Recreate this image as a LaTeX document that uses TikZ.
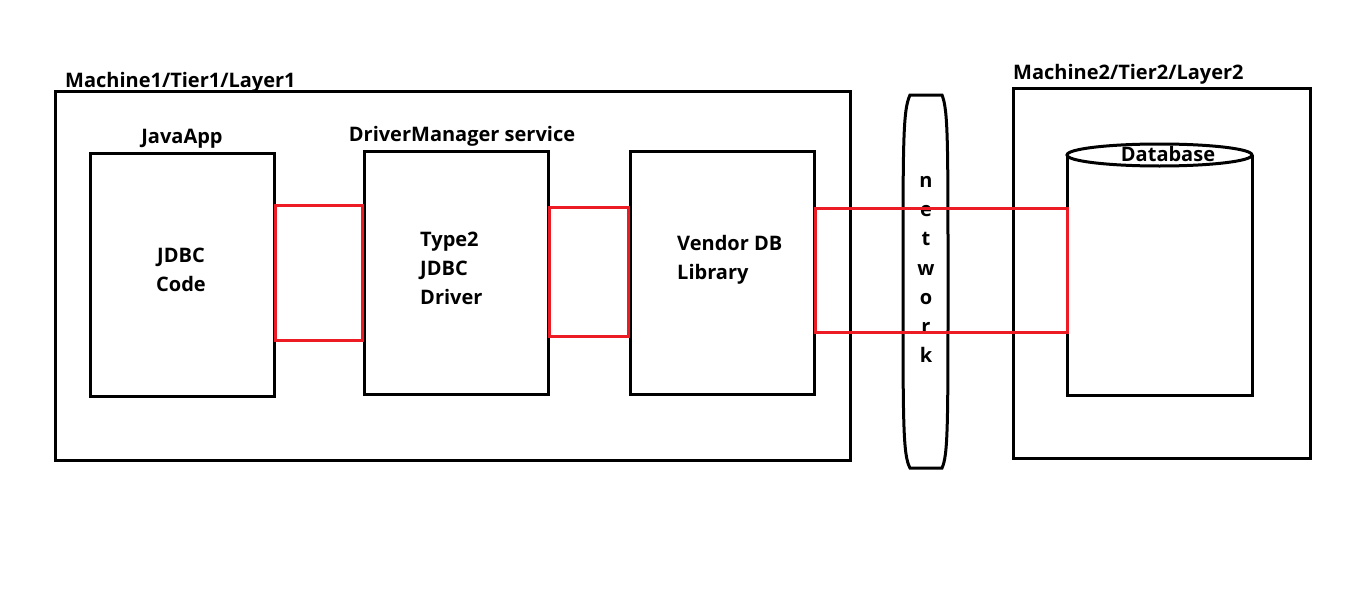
\documentclass[tikz,border=0pt]{standalone}
\usepackage{fontspec}
\setmainfont{Open Sans}
\usepackage{tikz}
\usetikzlibrary{positioning}
\definecolor{paintRed}{HTML}{ED1C24}
\tikzstyle{box} = [rectangle, draw=black, line width=3pt, minimum width=184pt, minimum height=243pt]
\tikzstyle{machineBox} = [rectangle, draw=black, line width=3pt]
\tikzstyle{link} = [draw=paintRed, line width=3pt]
\tikzstyle{tag} = [font=\fontsize{20}{22}\selectfont\bfseries, inner sep=0pt]
\tikzstyle{boxText} = [font=\fontsize{20}{29}\selectfont\bfseries, inner sep=0pt]

\begin{document}
\begin{tikzpicture}[x=1pt, y=-1pt]
                    \useasboundingbox (0,0) rectangle (1360,613);
                    \fill [white] (0,0) rectangle (1360,613);
                    % machine 1
                    \node (m1) [machineBox, minimum width=795pt, minimum height=369pt] at (452.5,275.5) {};
                    \node (m1Label) [tag, anchor=base west] at (65,87) {Machine1/Tier1/Layer1};
                    \node (java) [box] at (182,274.5) {};
                    \node (driver) [box] at (456,272.5) {};
                    \node (vendor) [box] at (722,272.5) {};
                    \node (javaLabel) [tag, above = 3pt of java] {JavaApp};
                    \node (driverLabel) [tag, above = 3pt of driver, xshift=6pt] {DriverManager service};
                    \node (javaText) [boxText, align=center] at (181,270) {JDBC\\Code};
                    \node (driverText) [boxText, align=left, anchor=west] at (420,268) {Type2\\JDBC\\Driver};
                    \node (vendorText) [boxText, align=left, anchor=west] at (677,259.5) {Vendor DB\\Library};
                    % network
                    \draw [line width=3pt] (910,95) -- (942,95)
                        .. controls (948,110) and (948,140) .. (948,282)
                        .. controls (948,425) and (948,455) .. (942,468) -- (910,468)
                        .. controls (903,455) and (903,425) .. (903,282)
                        .. controls (903,140) and (903,110) .. (910,95) -- cycle;
                    \node (net) [boxText, align=center, font=\fontsize{20}{29.2}\selectfont\bfseries] at (926,269.5) {n\\e\\t\\w\\o\\r\\k};
                    % machine 2
                    \node (m2) [machineBox, minimum width=297pt, minimum height=370pt] at (1161.5,273) {};
                    \node (m2Label) [tag, anchor=base west] at (1013,79) {Machine2/Tier2/Layer2};
                    \draw [line width=3pt] (1067,155) -- (1067,395) -- (1252,395) -- (1252,155);
                    \draw [line width=3pt, fill=white] (1159.5,155) ellipse [x radius=92.5, y radius=11];
                    \coordinate (dbWest) at (1067,270);
                    \node (db) [tag] at (1168,154) {Database};
                    % links
                    \draw [link] (java.east |- 0,205) rectangle (driver.west |- 0,340);
                    \draw [link] (driver.east |- 0,207) rectangle (vendor.west |- 0,336);
                    \draw [link] (vendor.east |- 0,208) rectangle (dbWest |- 0,332);
                \end{tikzpicture}
\end{document}
